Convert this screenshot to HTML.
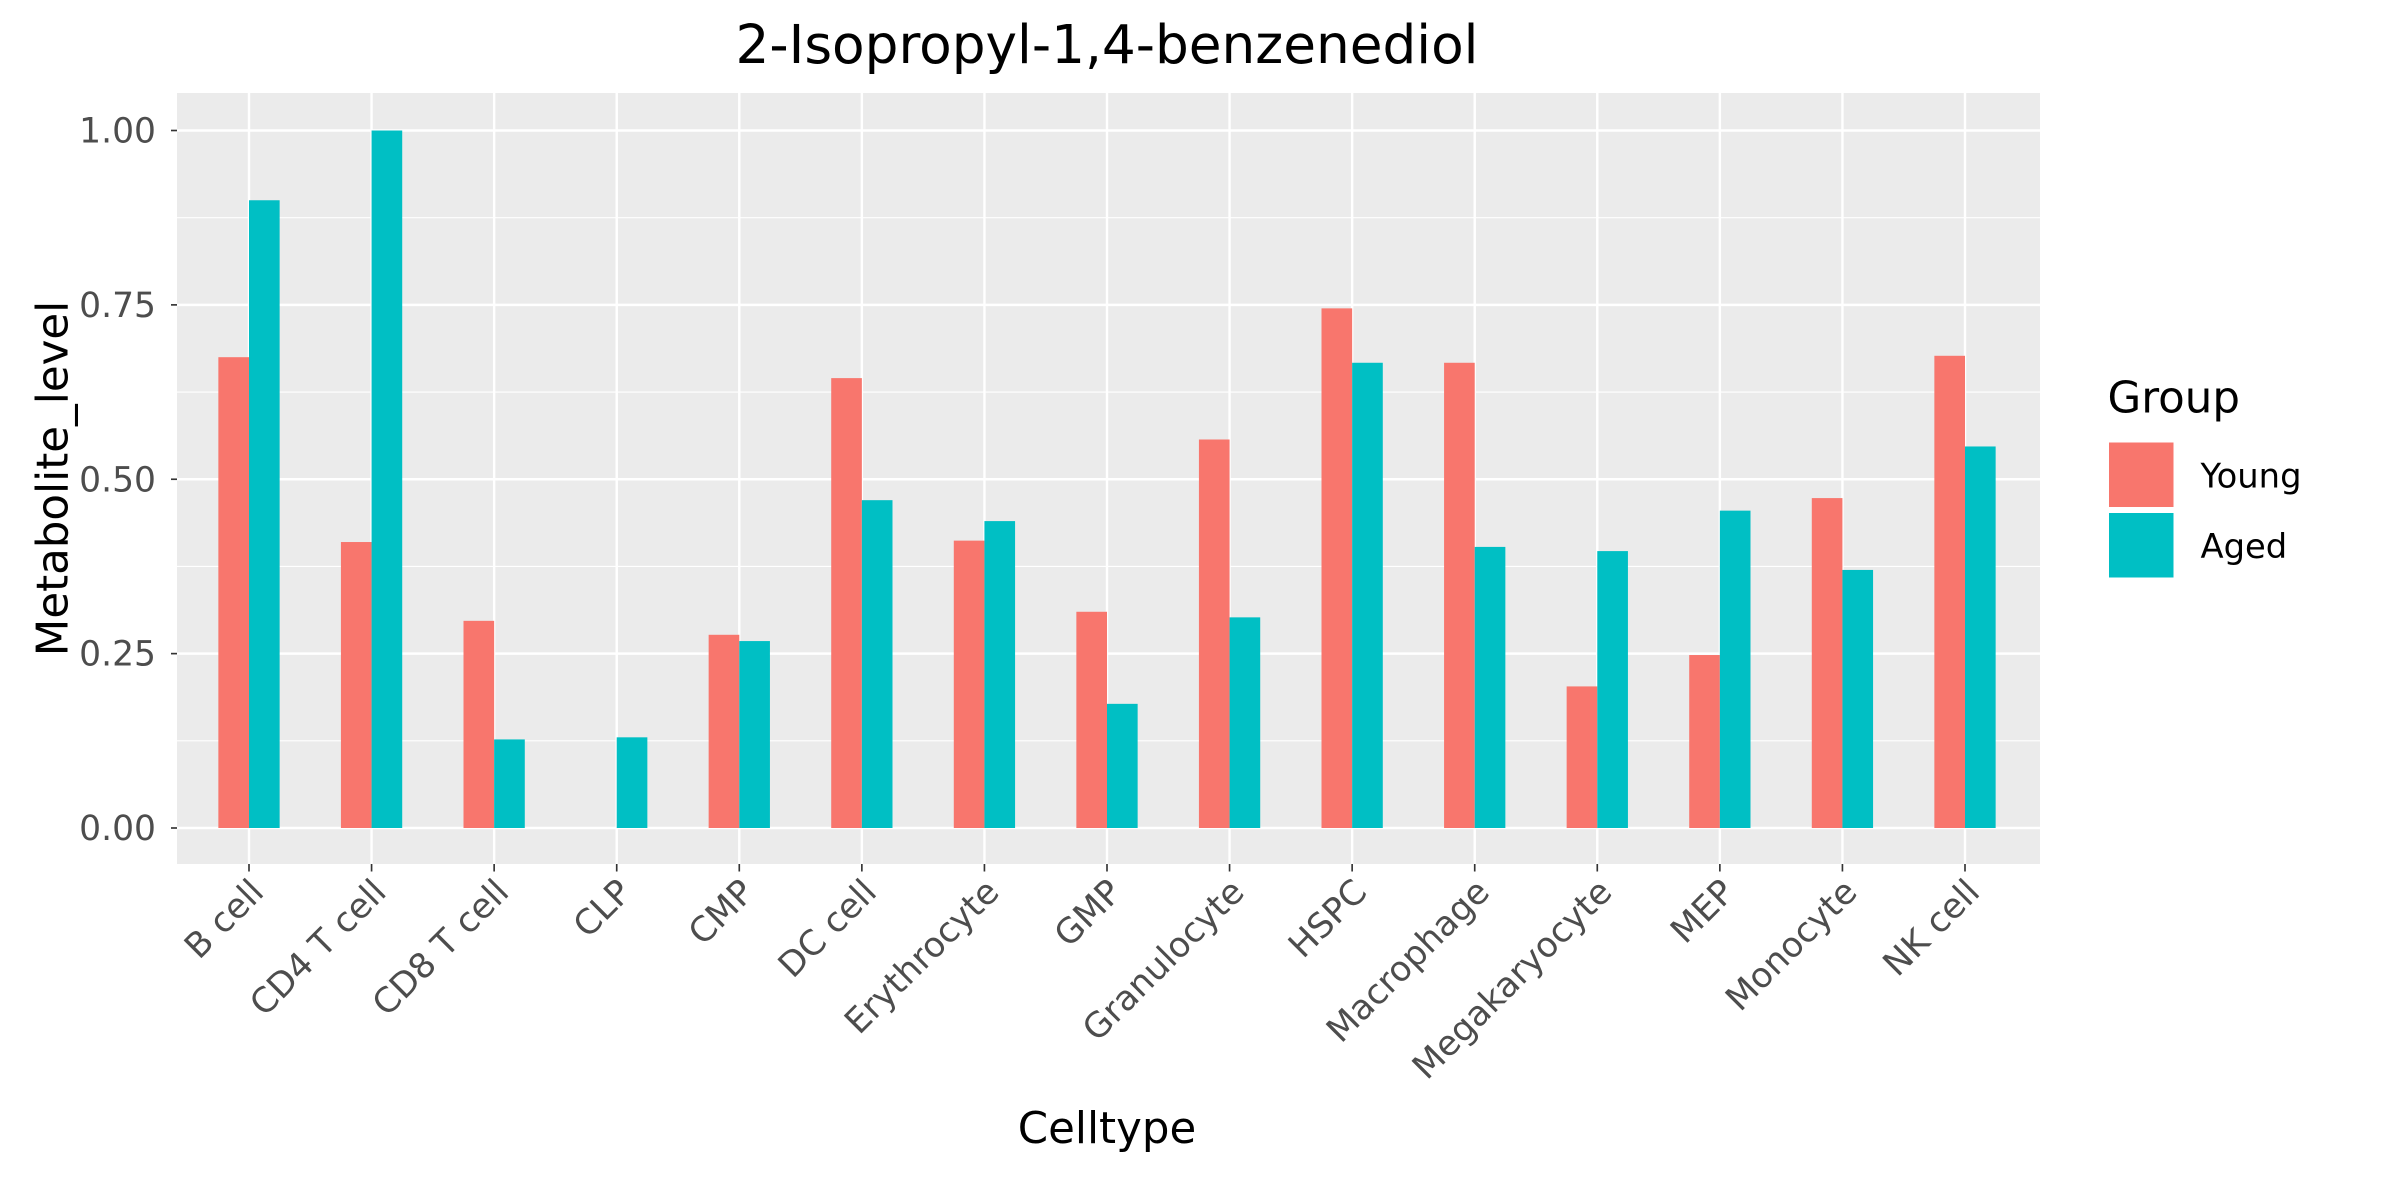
<!DOCTYPE html>
<html><head><meta charset="utf-8"><style>
html,body{margin:0;padding:0;background:#fff;}
svg{display:block;font-family:"DejaVu Sans","Liberation Sans",sans-serif;}
</style></head><body>
<svg id="chart" width="2400" height="1200" viewBox="0 0 1600 800" xmlns="http://www.w3.org/2000/svg">
<rect x="0" y="0" width="1600" height="800" fill="#fff"/>
<text x="738" y="42" text-anchor="middle" font-size="35.5" fill="#000">2-Isopropyl-1,4-benzenediol</text>
<rect x="118" y="62" width="1242" height="514" fill="#EBEBEB"/>
<g id="grid"></g>
<g id="bars"></g>
<g id="axes"></g>
<text transform="translate(45,319) rotate(-90)" text-anchor="middle" font-size="29" fill="#000">Metabolite_level</text>
<text x="738" y="762" text-anchor="middle" font-size="29" fill="#000">Celltype</text>
<g>
<text x="1405" y="275" font-size="29" fill="#000">Group</text>
<rect x="1406" y="295" width="43" height="43" fill="#F8766D"/>
<rect x="1406" y="342" width="43" height="43" fill="#00BFC4"/>
<text x="1467" y="325" font-size="22.5" fill="#000">Young</text>
<text x="1467" y="372" font-size="22.5" fill="#000">Aged</text>
</g>
</svg>
<script>
const categories = ["B cell","CD4 T cell","CD8 T cell","CLP","CMP","DC cell","Erythrocyte","GMP","Granulocyte","HSPC","Macrophage","Megakaryocyte","MEP","Monocyte","NK cell"];
const youngValues = [0.675,0.41,0.297,0,0.277,0.645,0.412,0.31,0.557,0.745,0.667,0.203,0.248,0.473,0.677];
const agedValues = [0.9,1.0,0.127,0.13,0.268,0.47,0.44,0.178,0.302,0.667,0.403,0.397,0.455,0.37,0.547];
const yTicks = [0,0.25,0.5,0.75,1.0];
const yTickLabels = ["0.00","0.25","0.50","0.75","1.00"];

const NS = "http://www.w3.org/2000/svg";
const panel = {x0:118, x1:1360, y0:62, y1:576};
function xScale(i){ return 166 + i*(1310-166)/(categories.length-1); }
function yScale(v){ return 552 - v*465; }
const step = (1310-166)/(categories.length-1);
const barW = step*0.25;
function mk(tag, attrs, parent){ const e=document.createElementNS(NS,tag); for(const k in attrs) e.setAttribute(k,attrs[k]); parent.appendChild(e); return e; }
const grid=document.getElementById('grid'), bars=document.getElementById('bars'), axes=document.getElementById('axes');
for(let i=0;i<yTicks.length;i++){
  const y=yScale(yTicks[i]+0.125);
  if(y<=panel.y0) continue;
  const l=mk('line',{x1:panel.x0,x2:panel.x1,y1:y,y2:y,stroke:'#fff','stroke-width':0.8},grid);
  
  
}
yTicks.forEach((t,i)=>{
  const y=yScale(t);
  const l=mk('line',{x1:panel.x0,x2:panel.x1,y1:y,y2:y,stroke:'#fff','stroke-width':1.6},grid);
  
  
  const tk=mk('line',{x1:panel.x0-4,x2:panel.x0,y1:y,y2:y,stroke:'#333','stroke-width':1.1},axes);
  
  
  const tx=mk('text',{x:panel.x0-14,y:y+8,'text-anchor':'end','font-size':23,fill:'#4D4D4D'},axes);
  tx.textContent=yTickLabels[i];
  
  
});
categories.forEach((c,i)=>{
  const x=xScale(i);
  const l=mk('line',{x1:x,x2:x,y1:panel.y0,y2:panel.y1,stroke:'#fff','stroke-width':1.6},grid);
  
  
  const y0=yScale(0);
  const r1=mk('rect',{x:x-barW,y:yScale(youngValues[i]),width:barW,height:y0-yScale(youngValues[i]),fill:'#F8766D'},bars);
  
  
  const r2=mk('rect',{x:x,y:yScale(agedValues[i]),width:barW,height:y0-yScale(agedValues[i]),fill:'#00BFC4'},bars);
  
  
  const tk=mk('line',{x1:x,x2:x,y1:panel.y1,y2:panel.y1+5,stroke:'#333','stroke-width':1.1},axes);
  
  
  const tx=mk('text',{transform:`translate(${x+11},${panel.y1+20}) rotate(-45)`,'text-anchor':'end','font-size':23,fill:'#4D4D4D'},axes);
  tx.textContent=c;
  
  
});
</script>
</body></html>
